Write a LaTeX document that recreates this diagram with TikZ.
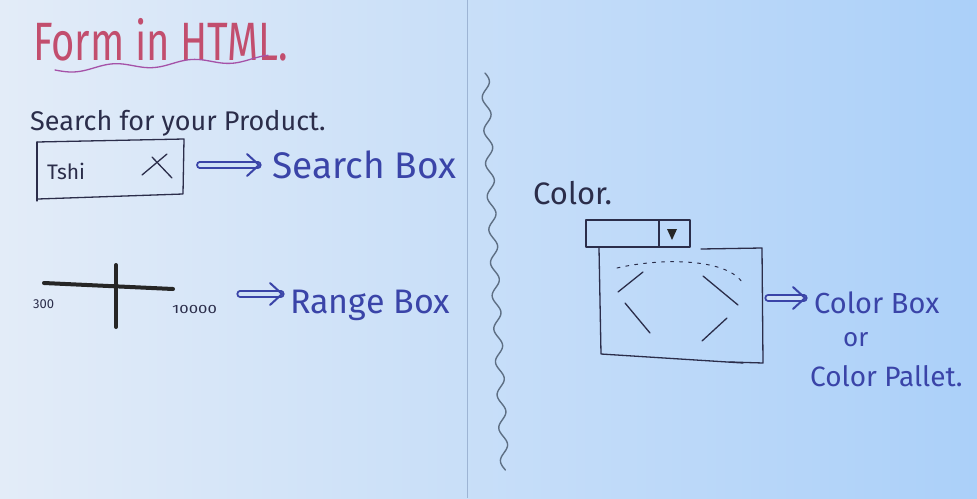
\documentclass[tikz,border=0pt]{standalone}
\usepackage{fontspec}
\setmainfont{Fira Sans}
\usetikzlibrary{arrows.meta}
\definecolor{boardL}{HTML}{E3ECF8}
\definecolor{boardR}{HTML}{ABD0F9}
\definecolor{boardM}{HTML}{CFE1F7}
\definecolor{redink}{HTML}{C24E6E}
\definecolor{purpink}{HTML}{A552A8}
\definecolor{blueink}{HTML}{3A44A8}
\definecolor{darkink}{HTML}{2B2D4A}
\definecolor{edge}{HTML}{9DB4D4}
\definecolor{divider}{HTML}{5E6F84}
\tikzset{
  label/.style={inner sep=0pt, anchor=base west},
  blue label/.style={label, text=blueink},
  dark label/.style={label, text=darkink},
  pen/.style={draw=darkink, line width=1.3pt, line cap=round, line join=round},
  thick pen/.style={draw=black!85, line width=4pt, line cap=round},
  implies/.style={draw=blueink, double=boardM, double distance=3.2pt, line width=2pt,
    -{Straight Barb[length=12pt, width=22pt, line width=2pt, round]}, line cap=round}
}
\begin{document}
\begin{tikzpicture}[x=1pt, y=-1pt]
% board
\useasboundingbox (0,0) rectangle (977,498);
\shade[left color=boardL, right color=boardR] (0,0) rectangle (977,498);
\draw[edge, line width=1pt] (467,0) -- (467,498);

% title and its wavy underline
\node[label, text=redink] (title) at (33,60) {\scalebox{1}[1.35]{\fontsize{40}{40}\selectfont Form in HTML.}};
\draw[purpink, line width=1.3pt, line cap=round]
  plot[domain=55:268, samples=120] (\x, {70 - 0.055*(\x-55) + 3*sin((\x-55)*4.6)});

% search box
\node[dark label] (prompt) at (30,130) {\fontsize{27}{27}\selectfont Search for your Product.};
\coordinate (sb-tl) at (37,142);
\coordinate (sb-tr) at (184,139);
\coordinate (sb-br) at (183,194);
\coordinate (sb-bl) at (38,199);
\draw[pen] (sb-tl) -- (sb-tr) -- (sb-br) -- (sb-bl);
\draw[pen] (sb-tl) -- (37,201);
\node[dark label] (query) at (47,179) {\fontsize{21}{21}\selectfont Tshi};
\coordinate (x1) at (142,175);
\coordinate (x2) at (167,154);
\coordinate (x3) at (152,157);
\coordinate (x4) at (172,178);
\draw[pen] (x1) -- (x2) (x3) -- (x4);
\node[inner sep=0pt] (sbox) at (185,165) {};
\node[blue label] (stext) at (272,178) {\fontsize{37}{37}\selectfont Search Box};
\draw[implies] (sbox.east) ++(14,0) -- ([xshift=-12pt]stext.west |- 0,165);

% range slider
\coordinate (track-l) at (44,283);
\coordinate (track-r) at (173,289);
\coordinate (knob-t) at (116,265);
\coordinate (knob-b) at (116,327);
\draw[thick pen] (track-l) -- (track-r);
\draw[thick pen] (knob-t) -- (knob-b);
\node[dark label] (rmin) at (33,308) {\fontsize{13}{13}\selectfont 300};
\node[dark label] (rmax) at (172,313) {\scalebox{1.4}[1]{\fontsize{12}{12}\selectfont 10000}};
\node[blue label] (rtext) at (290,313) {\fontsize{34}{34}\selectfont Range Box};
\coordinate (rarrow) at (240,294);
\draw[implies] (rarrow) -- ([xshift=-7pt]rtext.west |- 0,294);

% wavy divider
\draw[divider, line width=1.4pt, line cap=round]
  plot[domain=73:470, samples=240] ({485 + 0.05*(\x-73) + 4*sin((\x-73)*10.9)}, \x);

% colour picker
\node[dark label] (ctitle) at (533,204) {\fontsize{31}{31}\selectfont Color.};
\coordinate (dd-tl) at (586,220);
\coordinate (dd-br) at (690,247);
\draw[pen] (dd-tl) rectangle (dd-br);
\draw[pen] (659,220) -- (659,247);
\fill[black!85] (667,229) -- (677,229) -- (672,240) -- cycle;
\coordinate (pal-a) at (701,249);
\coordinate (pal-b) at (762,248);
\coordinate (pal-c) at (763,363);
\coordinate (pal-d) at (730,362);
\draw[pen] (pal-a) -- (pal-b) -- (pal-c) -- (pal-d);
\coordinate (pal-e) at (599,248);
\coordinate (pal-f) at (601,354);
\coordinate (pal-g) at (743,363);
\draw[pen] (pal-e) -- (pal-f) -- (pal-g);
\draw[pen, line width=1pt, dash pattern=on 3pt off 6pt]
  (617,268) .. controls (660,258) and (725,258) .. (742,282);
\draw[pen] (618,292) -- (643,272);
\draw[pen] (625,303) -- (650,333);
\draw[pen] (703,276) -- (738,305);
\draw[pen] (702,341) -- (727,318);
\node[blue label] (ctext1) at (814,313) {\fontsize{29}{29}\selectfont Color Box};
\node[blue label] (ctext2) at (843,346) {\fontsize{26}{26}\selectfont or};
\node[blue label] (ctext3) at (810,386) {\fontsize{28}{28}\selectfont Color Pallet.};
\coordinate (carrow) at (768,298);
\draw[implies] (carrow) -- ([xshift=-8pt]ctext1.west |- 0,298);
\end{tikzpicture}
\end{document}
